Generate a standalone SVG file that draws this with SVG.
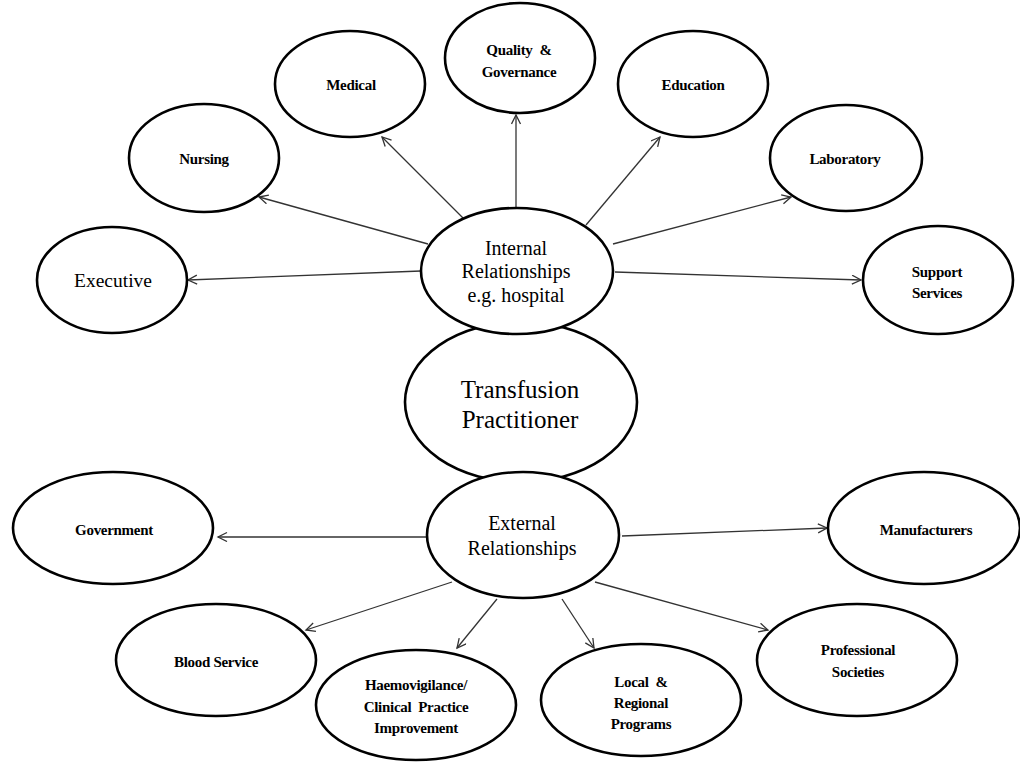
<svg xmlns="http://www.w3.org/2000/svg" width="1020" height="762" viewBox="0 0 1020 762" font-family="'Liberation Serif', 'Times New Roman', serif">
<defs>
<marker id="arr" markerUnits="userSpaceOnUse" markerWidth="12" markerHeight="12" refX="10" refY="5" orient="auto">
<path d="M1,0.5 L10,5 L1,9.5" fill="none" stroke="#333" stroke-width="1.3"/>
</marker>
<style>
.n{fill:#fff;stroke:#000;stroke-width:2.6}
.c{stroke:#333;stroke-width:1.3;fill:none;marker-end:url(#arr)}
text{font-family:'Liberation Serif','Times New Roman',serif;fill:#000;text-anchor:middle}
.s{font-size:15px;font-weight:bold;letter-spacing:-0.3px}
.m{font-size:20px}
.l{font-size:25px}
</style>
</defs>
<rect width="1020" height="762" fill="#fff"/>
<g id="connectors">
<line class="c" x1="421" y1="271" x2="188" y2="280"/>
<line class="c" x1="428" y1="244" x2="259" y2="197"/>
<line class="c" x1="463" y1="218" x2="382" y2="137"/>
<line class="c" x1="516" y1="207" x2="516" y2="115"/>
<line class="c" x1="586" y1="225" x2="660" y2="137"/>
<line class="c" x1="613" y1="244" x2="791" y2="197"/>
<line class="c" x1="615" y1="272" x2="861" y2="280"/>
<line class="c" x1="427" y1="537" x2="218" y2="537"/>
<line class="c" x1="622" y1="536" x2="827" y2="528"/>
<line class="c" x1="452" y1="582" x2="306" y2="630"/>
<line class="c" x1="497" y1="599" x2="457" y2="648"/>
<line class="c" x1="562" y1="599" x2="594" y2="648"/>
<line class="c" x1="595" y1="582" x2="768" y2="630"/>
</g>
<g id="quality"><ellipse class="n" cx="520" cy="58" rx="75" ry="55"/><text class="s" x="519" y="55">Quality &#160;&amp;</text><text class="s" x="519" y="77">Governance</text></g>
<g id="medical"><ellipse class="n" cx="350" cy="84" rx="75" ry="53"/><text class="s" x="351" y="90">Medical</text></g>
<g id="education"><ellipse class="n" cx="693" cy="84" rx="75" ry="53"/><text class="s" x="693" y="90">Education</text></g>
<g id="nursing"><ellipse class="n" cx="204" cy="158" rx="75" ry="54"/><text class="s" x="204" y="164">Nursing</text></g>
<g id="laboratory"><ellipse class="n" cx="846" cy="158" rx="76" ry="53"/><text class="s" x="845" y="164">Laboratory</text></g>
<g id="executive"><ellipse class="n" cx="112" cy="280" rx="75" ry="53"/><text style="font-size:19.5px" x="113" y="287">Executive</text></g>
<g id="support"><ellipse class="n" cx="938" cy="280" rx="75" ry="54"/><text class="s" x="937" y="277">Support</text><text class="s" x="937" y="298">Services</text></g>
<g id="transfusion"><ellipse class="n" cx="521" cy="402" rx="116" ry="80"/><text class="l" x="520" y="398">Transfusion</text><text class="l" x="520" y="428">Practitioner</text></g>
<g id="internal"><ellipse class="n" cx="517" cy="271" rx="96" ry="63"/><text class="m" x="516" y="255">Internal</text><text class="m" x="516" y="278">Relationships</text><text class="m" x="516" y="302">e.g. hospital</text></g>
<g id="external"><ellipse class="n" cx="523" cy="535" rx="96" ry="63"/><text class="m" x="522" y="530">External</text><text class="m" x="522" y="555">Relationships</text></g>
<g id="government"><ellipse class="n" cx="113" cy="528" rx="100" ry="56"/><text class="s" x="114" y="535">Government</text></g>
<g id="manufacturers"><ellipse class="n" cx="924" cy="528" rx="96" ry="56"/><text class="s" x="926" y="535">Manufacturers</text></g>
<g id="blood"><ellipse class="n" cx="216" cy="660" rx="100" ry="56"/><text class="s" x="216" y="667">Blood Service</text></g>
<g id="haemo"><ellipse class="n" cx="416" cy="705" rx="100" ry="55"/><text class="s" x="416" y="690">Haemovigilance/</text><text class="s" x="416" y="712">Clinical &#160;Practice</text><text class="s" x="416" y="733">Improvement</text></g>
<g id="local"><ellipse class="n" cx="641" cy="700" rx="100" ry="56"/><text class="s" x="641" y="687">Local &#160;&amp;</text><text class="s" x="641" y="708">Regional</text><text class="s" x="641" y="729">Programs</text></g>
<g id="professional"><ellipse class="n" cx="857" cy="660" rx="100" ry="56"/><text class="s" x="858" y="655">Professional</text><text class="s" x="858" y="677">Societies</text></g>
</svg>
